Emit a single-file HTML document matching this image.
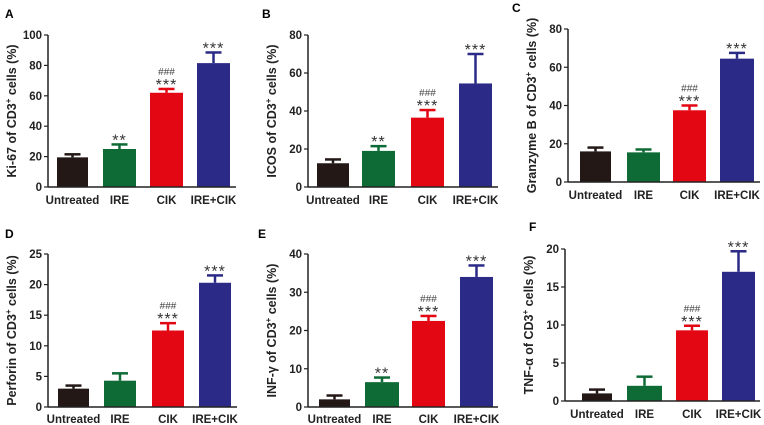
<!DOCTYPE html>
<html><head><meta charset="utf-8"><style>
body{margin:0;background:#fff;width:764px;height:425px;overflow:hidden}
svg{display:block;font-family:"Liberation Sans",Arial,sans-serif}
</style></head><body>
<svg id="fig" width="764" height="425"></svg>
<script>
const categories=["Untreated","IRE","CIK","IRE+CIK"];
const colors=["#231816","#0f6b36","#e30613","#2b2a86"];
const valsA=[19.5,25,62,81.5], errA=[2,3,2.5,7];
const valsB=[12.5,19,36.5,54.5], errB=[2,2.5,4,15.5];
const valsC=[16,15.5,37.5,64.5], errC=[2,1.5,2.5,3];
const valsD=[3,4.3,12.5,20.3], errD=[0.5,1.2,1.2,1.2];
const valsE=[2,6.5,22.5,34], errE=[1,1.2,1.3,3];
const valsF=[1,2,9.3,17], errF=[0.5,1.2,0.6,2.7];
const ticksA=[0,20,40,60,80,100], ticksB=[0,20,40,60,80], ticksC=[0,20,40,60,80];
const ticksD=[0,5,10,15,20,25], ticksE=[0,10,20,30,40], ticksF=[0,5,10,15,20];
const starsA=["","**","***","***"], starsB=["","**","***","***"], starsC=["","","***","***"];
const starsD=["","","***","***"], starsE=["","**","***","***"], starsF=["","","***","***"];
const hashes=["","","###",""];
const NS="http://www.w3.org/2000/svg";
const fig=document.getElementById('fig');
function mk(tag,attrs,parent,text){const e=document.createElementNS(NS,tag);for(const k in attrs)e.setAttribute(k,attrs[k]);if(text!==undefined)e.textContent=text;parent.appendChild(e);return e;}
const panels=[
 {id:"a",letter:"A",lx:5,ly:18,ax:48,yT:35,y0:187,bars:[[57,88],[103,136],[150,183],[197,230]],vals:valsA,err:errA,ticks:ticksA,stars:starsA,title:"Ki-67 of CD3",lab:204,xEnd:236},
 {id:"b",letter:"B",lx:262,ly:18,ax:308,yT:35,y0:187,bars:[[317,349],[362,395],[411,444],[459,492]],vals:valsB,err:errB,ticks:ticksB,stars:starsB,title:"ICOS of CD3",lab:204,xEnd:498},
 {id:"c",letter:"C",lx:512,ly:12,ax:568,yT:29,y0:182,bars:[[580,611],[627,660],[673,706],[720,754]],vals:valsC,err:errC,ticks:ticksC,stars:starsC,title:"Granzyme B of CD3",lab:199,xEnd:760},
 {id:"d",letter:"D",lx:5,ly:238,ax:48,yT:254,y0:407,bars:[[58,89],[104,136],[152,184],[199,231]],vals:valsD,err:errD,ticks:ticksD,stars:starsD,title:"Perforin of CD3",lab:423,xEnd:237},
 {id:"e",letter:"E",lx:258,ly:238,ax:308,yT:254,y0:407,bars:[[319,350],[365,399],[412,445],[460,493]],vals:valsE,err:errE,ticks:ticksE,stars:starsE,title:"INF-γ of CD3",lab:423,xEnd:498},
 {id:"f",letter:"F",lx:529,ly:231,ax:565,yT:249,y0:401,bars:[[582,612],[627,662],[676,708],[722,755]],vals:valsF,err:errF,ticks:ticksF,stars:starsF,title:"TNF-α of CD3",lab:418,xEnd:760}
];
panels.forEach(p=>{
 const g=mk('g',{},fig);
 
 
 const maxT=p.ticks[p.ticks.length-1];
 const y=v=>p.y0-(v/maxT)*(p.y0-p.yT);
 const L=mk('text',{x:p.lx,y:p.ly,'font-size':12,'font-weight':'bold'},g,p.letter);
 
 
 p.vals.forEach((v,i)=>{
  const [x1,x2]=p.bars[i];const cx=(x1+x2)/2,c=colors[i];
  const top=y(v+p.err[i]);
  const eb=mk('line',{x1:cx,x2:cx,y1:y(v),y2:top,stroke:c,'stroke-width':2.5},g);
  
  
  const cap=mk('line',{x1:cx-8,x2:cx+8,y1:top,y2:top,stroke:c,'stroke-width':2.5},g);
  
  
  const r=mk('rect',{x:x1,y:y(v),width:x2-x1,height:p.y0-y(v),fill:c},g);
  
  
  if(p.stars[i]){
   const s=mk('text',{x:cx,y:top+1,'text-anchor':'middle','font-size':16,'letter-spacing':'1',fill:'#333'},g,p.stars[i]);
   
   
   if(hashes[i]){
    const h=mk('text',{x:cx,y:top-14,'text-anchor':'middle','font-size':10,fill:'#444'},g,hashes[i]);
    
    
   }
  }
  const xl=mk('text',{x:cx,y:p.lab,'text-anchor':'middle','font-size':11.5,'font-weight':'bold',fill:'#222'},g,categories[i]);
  
  
 });
 const ya=mk('line',{x1:p.ax,x2:p.ax,y1:p.yT,y2:p.y0,stroke:'#222','stroke-width':1.5},g);
 
 
 const xa=mk('line',{x1:p.ax,x2:p.xEnd,y1:p.y0,y2:p.y0,stroke:'#222','stroke-width':1.5},g);
 
 
 p.ticks.forEach(t=>{
  mk('line',{x1:p.ax-4,x2:p.ax,y1:y(t),y2:y(t),stroke:'#222','stroke-width':1.2},g);
  const tl=mk('text',{x:p.ax-6,y:y(t)+4,'text-anchor':'end','font-size':11.5,'font-weight':'bold',fill:'#222'},g,t);
  
  
 });
 const tx=p.ax-32,ty=(p.yT+p.y0)/2;
 const yt=mk('text',{x:tx,y:ty,'text-anchor':'middle','font-size':12.5,'font-weight':'bold',fill:'#222',transform:`rotate(-90 ${tx} ${ty})`},g);
 
 
 mk('tspan',{},yt,p.title);
 mk('tspan',{dy:-5,'font-size':8},yt,'+');
 mk('tspan',{dy:5},yt,' cells (%)');
});
</script>
</body></html>
